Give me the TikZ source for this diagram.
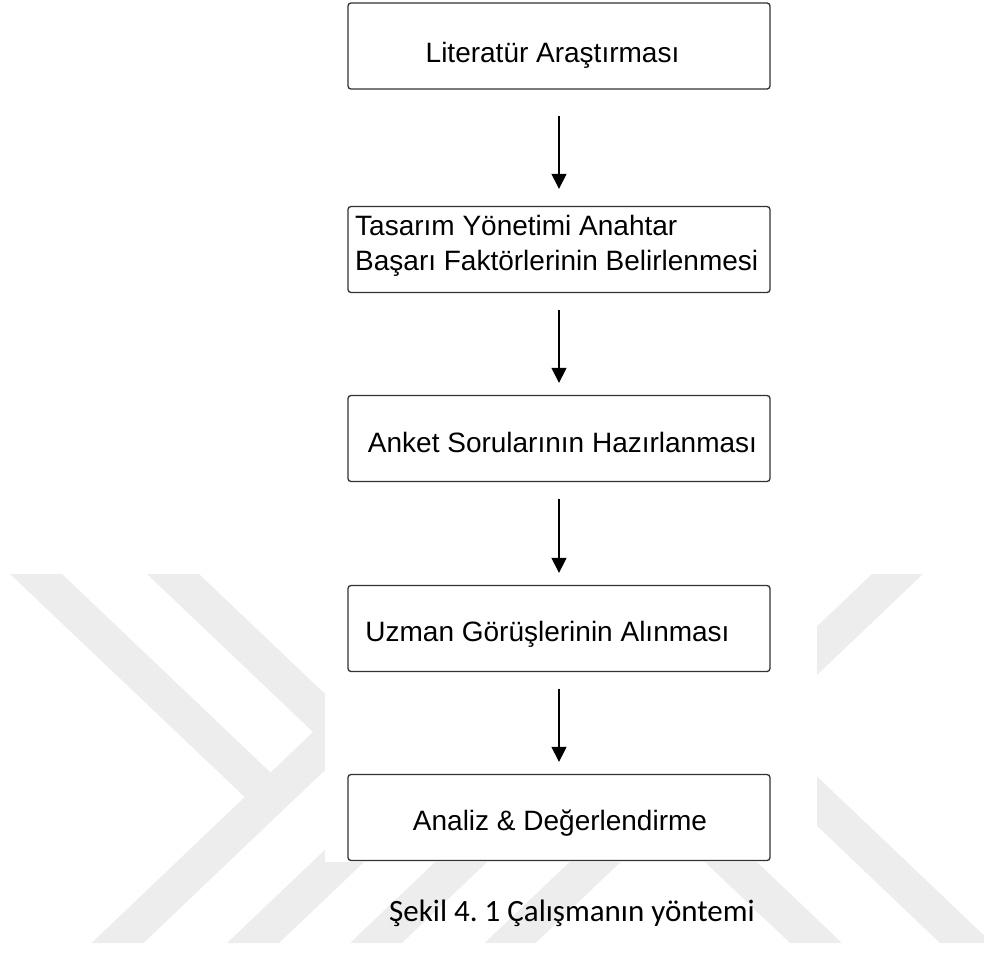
\documentclass[tikz,border=0pt]{standalone}
\usepackage{fontspec}
\setmainfont{Liberation Sans}
\newfontfamily\captionfont{Carlito}
\usetikzlibrary{arrows.meta}
\definecolor{wmark}{RGB}{237,237,237}
\definecolor{boxline}{RGB}{50,50,50}
\frenchspacing
\begin{document}
\begin{tikzpicture}[x=1pt,y=-1pt,
  stepbox/.style={draw=boxline, line width=1.3pt, rounded corners=3pt,
    minimum width=422pt, minimum height=86pt, inner sep=0pt},
  lbl/.style={font=\fontsize{28}{34}\selectfont, inner sep=0pt, anchor=base},
  flow/.style={line width=1.2pt, -{Triangle[width=15pt,length=15pt]},
    shorten <=16.5pt, shorten >=12pt}]
\useasboundingbox (0,0) rectangle (984,958);

% background watermark bands
\begin{scope}
  \clip (0,0) rectangle (984,958);
  \fill[wmark] (10,574) -- (62,574) -- (270.5,772.5) -- (245,797.3) -- cycle;
  \fill[wmark] (147,574) -- (199,574) -- (365,732) -- (143.5,943) -- (91.5,943) -- (313,732) -- cycle;
  \fill[wmark] (227,943) -- (279,943) -- (666.5,574) -- (614.5,574) -- cycle;
  \fill[wmark] (350,943) -- (402,943) -- (789.5,574) -- (737.5,574) -- cycle;
  \fill[wmark] (484.5,943) -- (535.5,943) -- (923,574) -- (872,574) -- cycle;
  \fill[wmark] (790,943) -- (842,943) -- (454.5,574) -- (402.5,574) -- cycle;
  \fill[wmark] (940,943) -- (992,943) -- (604.5,574) -- (552.5,574) -- cycle;
\end{scope}

% white panel behind the flowchart
\fill[white] (325,0) rectangle (817,862);

% process steps
\node[stepbox] (b1) at (559,46) {};
\node[stepbox] (b2) at (559,249.5) {};
\node[stepbox] (b3) at (559,438.5) {};
\node[stepbox] (b4) at (559,628.5) {};
\node[stepbox] (b5) at (559,817.5) {};

\node[lbl] (t1) at (552.5,63) {Literatür Araştırması};
\node[lbl, anchor=base west] (t2a) at (355,235) {Tasarım Yönetimi Anahtar};
\node[lbl, anchor=base west] (t2b) at (355,270) {Başarı Faktörlerinin Belirlenmesi};
\node[lbl] (t3) at (562.5,452) {Anket Sorularının Hazırlanması};
\node[lbl] (t4) at (547.5,641) {Uzman Görüşlerinin Alınması};
\node[lbl] (t5) at (560,830) {Analiz \& Değerlendirme};

% connectors
\draw[flow, shorten <=26pt, shorten >=17pt] (b1) -- (b2);
\draw[flow] (b2) -- (b3);
\draw[flow] (b3) -- (b4);
\draw[flow] (b4) -- (b5);

% caption
\node[lbl, font=\captionfont\fontsize{31}{37}\selectfont] (cap) at (572,921) {Şekil 4. 1 Çalışmanın yöntemi};
\end{tikzpicture}
\end{document}
